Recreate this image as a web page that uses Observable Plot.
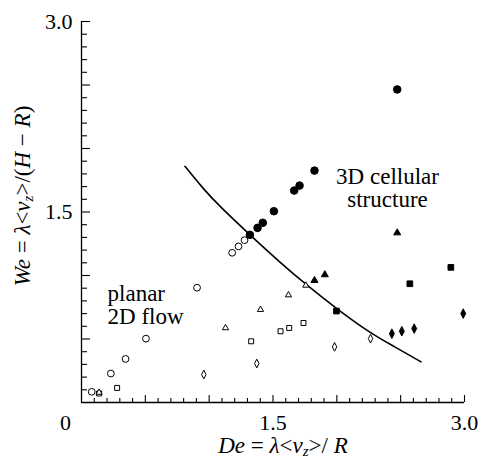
<!DOCTYPE html>
<html><head><meta charset="utf-8">
<script src="https://cdn.jsdelivr.net/npm/d3@7"></script>
<script src="https://cdn.jsdelivr.net/npm/@observablehq/plot@0.6"></script>
<style>html,body{margin:0;padding:0;background:#fff;font-family:'Liberation Serif',serif;} svg{display:block}</style>
</head><body><div id="chart"></div>
<script>
// ---- data ----
const openCircleX   = [0.080, 0.230, 0.345, 0.505, 0.905, 1.180, 1.230, 1.277];
const openCircleY   = [0.084, 0.228, 0.343, 0.503, 0.904, 1.179, 1.229, 1.278];
const filledCircleX = [1.319, 1.379, 1.420, 1.507, 1.666, 1.708, 1.825, 2.473];
const filledCircleY = [1.320, 1.375, 1.415, 1.506, 1.669, 1.708, 1.826, 2.465];
const openTriX      = [0.138, 1.128, 1.402, 1.621, 1.757];
const openTriY      = [0.079, 0.587, 0.731, 0.846, 0.922];
const filledTriX    = [1.825, 1.906, 2.473];
const filledTriY    = [0.961, 1.006, 1.336];
const openSqX       = [0.138, 0.279, 1.329, 1.559, 1.627, 1.739];
const openSqY       = [0.071, 0.115, 0.482, 0.561, 0.587, 0.626];
const filledSqX     = [1.997, 2.572, 2.893];
const filledSqY     = [0.720, 0.935, 1.064];
const openDiaX      = [0.958, 1.373, 1.982, 2.264];
const openDiaY      = [0.220, 0.307, 0.438, 0.503];
const filledDiaX    = [2.431, 2.509, 2.606, 2.990];
const filledDiaY    = [0.542, 0.561, 0.582, 0.700];
const curveX        = [0.81, 0.95, 1.10, 1.32, 1.55, 1.76, 2.00, 2.25, 2.45, 2.66];
const curveY        = [1.86, 1.69, 1.53, 1.32, 1.11, 0.93, 0.74, 0.56, 0.44, 0.32];

const minorTicks = [0.1, 0.2, 0.3, 0.4, 0.6, 0.7, 0.8, 0.9, 1.1, 1.2, 1.3, 1.4, 1.6, 1.7, 1.8, 1.9, 2.1, 2.2, 2.3, 2.4, 2.6, 2.7, 2.8, 2.9];
const majorTicks = [0.5, 1.0, 1.5, 2.0, 2.5, 3.0];
const xTickValues = [1.5, 3.0];
const xTickLabels = ["1.5", "3.0"];
const yTickValues = [1.5, 3.0];
const yTickLabels = ["1.5", "3.0"];
const originLabel = ["0"];

const leftAnnotText  = ["planar", "2D flow"];
const leftAnnotX     = [0.204, 0.204];
const leftAnnotY     = [0.860, 0.679];
const rightAnnotText = ["3D cellular", "structure"];
const rightAnnotX    = [2.397, 2.397];
const rightAnnotY    = [1.775, 1.596];

// ---- helpers ----
const W = 481, H = 459, mL = 81, mR = 17, mT = 21, mB = 57;
const pxX = (W - mL - mR) / 3, pxY = (H - mT - mB) / 3;   // pixels per data unit
const pts = (X, Y) => X.map((x, i) => ({x, y: Y[i]}));
const narrowDiamond = {
  draw(ctx, size) {
    const s = Math.sqrt(size), h = 0.82 * s, w = 0.42 * s;
    ctx.moveTo(0, -h); ctx.lineTo(w, 0); ctx.lineTo(0, h); ctx.lineTo(-w, 0); ctx.closePath();
  }
};
const FONT = "Liberation Serif, Times New Roman, Times, serif";

const openSty = {fill: "white", stroke: "black", strokeWidth: 1};
const fillSty = {fill: "black", stroke: "black", strokeWidth: 1};
const tickSty = {stroke: "black", strokeWidth: 1.1};

const chart = Plot.plot({
  width: W, height: H,
  marginLeft: mL, marginRight: mR, marginTop: mT, marginBottom: mB,
  style: `font-family: ${FONT}; background: white; color: black;`,
  x: {domain: [0, 3], axis: null},
  y: {domain: [0, 3], axis: null},
  marks: [
    // axes and inward ticks
    Plot.ruleX([0], {y1: 0, y2: 3, stroke: "black", strokeWidth: 1.3}),
    Plot.ruleY([0], {x1: 0, x2: 3, stroke: "black", strokeWidth: 1.3}),
    Plot.ruleX(minorTicks, {x: d => d, y1: 0, y2: 4 / pxY, ...tickSty}),
    Plot.ruleX(majorTicks, {x: d => d, y1: 0, y2: 7 / pxY, ...tickSty}),
    Plot.ruleY(minorTicks, {y: d => d, x1: 0, x2: 6 / pxX, ...tickSty}),
    Plot.ruleY(majorTicks, {y: d => d, x1: 0, x2: 9 / pxX, ...tickSty}),
    Plot.text(xTickValues, {x: d => d, y: 0, text: (d, i) => xTickLabels[i], dy: 20, fontSize: 22, fontFamily: FONT}),
    Plot.text(yTickValues, {x: 0, y: d => d, text: (d, i) => yTickLabels[i], dx: -9, textAnchor: "end", fontSize: 22, fontFamily: FONT}),
    Plot.text(originLabel, {x: 0, y: 0, text: d => d, dx: -16, dy: 20, fontSize: 22, fontFamily: FONT}),
    Plot.line(pts(curveX, curveY), {x: "x", y: "y", curve: "natural", strokeWidth: 1.6}),
    Plot.dot(pts(openCircleX, openCircleY), {x: "x", y: "y", symbol: "circle", r: 3.4, ...openSty}),
    Plot.dot(pts(openSqX, openSqY), {x: "x", y: "y", symbol: "square", r: 2.8, ...openSty}),
    Plot.dot(pts(openTriX, openTriY), {x: "x", y: "y", symbol: "triangle", r: 2.3, ...openSty}),
    Plot.dot(pts(openDiaX, openDiaY), {x: "x", y: "y", symbol: narrowDiamond, r: 3.0, ...openSty}),
    Plot.dot(pts(filledCircleX, filledCircleY), {x: "x", y: "y", symbol: "circle", r: 3.8, ...fillSty}),
    Plot.dot(pts(filledSqX, filledSqY), {x: "x", y: "y", symbol: "square", r: 3.2, ...fillSty}),
    Plot.dot(pts(filledTriX, filledTriY), {x: "x", y: "y", symbol: "triangle", r: 2.6, ...fillSty}),
    Plot.dot(pts(filledDiaX, filledDiaY), {x: "x", y: "y", symbol: narrowDiamond, r: 3.3, ...fillSty}),
    Plot.text(pts(leftAnnotX, leftAnnotY).map((d, i) => ({...d, t: leftAnnotText[i]})),
      {x: "x", y: "y", text: "t", textAnchor: "start", fontSize: 23, fontFamily: FONT}),
    Plot.text(pts(rightAnnotX, rightAnnotY).map((d, i) => ({...d, t: rightAnnotText[i]})),
      {x: "x", y: "y", text: "t", textAnchor: "middle", fontSize: 23, fontFamily: FONT})
  ]
});

document.getElementById("chart").appendChild(chart);
const svg = d3.select(chart);

// axis titles with italic parts and subscript
function title(parts, x, y, rotate) {
  const t = svg.append("text")
    .attr("transform", `translate(${x},${y})` + (rotate ? ` rotate(${rotate})` : ""))
    .attr("text-anchor", "middle")
    .attr("font-family", FONT)
    .attr("font-size", 23).attr("fill", "black");
  for (const p of parts) {
    const s = t.append("tspan").text(p.s);
    if (p.i) s.attr("font-style", "italic");
    if (p.sub) s.attr("font-size", 15).attr("dy", 3);
    if (p.up) s.attr("dy", -3);
  }
}
title([{s: "We", i: 1}, {s: " = "}, {s: "λ", i: 1}, {s: "<"}, {s: "v", i: 1}, {s: "z", i: 1, sub: 1}, {s: ">", up: 1}, {s: "/("}, {s: "H", i: 1}, {s: " − "}, {s: "R", i: 1}, {s: ")"}], 30, 196, -90);
title([{s: "De", i: 1}, {s: " = "}, {s: "λ", i: 1}, {s: "<"}, {s: "v", i: 1}, {s: "z", i: 1, sub: 1}, {s: ">", up: 1}, {s: "/ "}, {s: "R", i: 1}], 283, 453, 0);
</script>
</body></html>
